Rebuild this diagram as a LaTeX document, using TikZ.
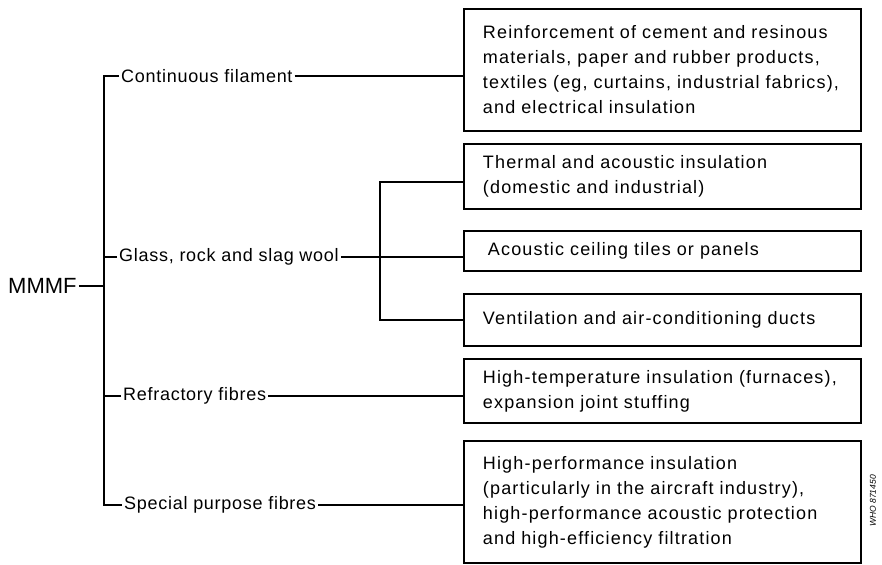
\documentclass[tikz,border=0pt]{standalone}
\usepackage{fontspec}
\setmainfont{Liberation Sans}
\newfontfamily\lblfont[LetterSpace=4]{Liberation Sans}
\newfontfamily\boxfont[LetterSpace=6.5]{Liberation Sans}
\begin{document}
\begin{tikzpicture}[x=1pt,y=-1pt,
  conn/.style={line width=1.8pt},
  lbl/.style={font=\lblfont\fontsize{18}{20}\selectfont, inner sep=2pt, anchor=west},
  usebox/.style={draw, line width=1.8pt, anchor=north west, minimum width=397pt,
     text width=359pt, align=left, inner sep=0pt,
     font=\boxfont\fontsize{18}{25}\selectfont}]
\useasboundingbox (0,0) rectangle (882,564);
% root
\node[font=\fontsize{22}{24}\selectfont, anchor=west, inner sep=2pt] (mm) at (6,286) {MMMF};
% category labels
\node[lbl] (cf) at (119,76) {Continuous filament};
\node[lbl] (gw) at (117,257) {Glass, rock and slag wool};
\node[lbl] (rf) at (121,396) {Refractory fibres};
\node[lbl] (sp) at (122,505) {Special purpose fibres};
% use boxes
\node[usebox, minimum height=122pt] (b1) at (463,8) {Reinforcement of cement and resinous\\materials, paper and rubber products,\\textiles (eg, curtains, industrial fabrics),\\and electrical insulation};
\node[usebox, minimum height=65pt] (b2) at (463,143) {Thermal and acoustic insulation\\(domestic and industrial)};
\node[usebox, minimum height=40pt] (b3) at (463,230) {\hspace*{5pt}Acoustic ceiling tiles or panels};
\node[usebox, minimum height=52pt] (b4) at (463,293) {Ventilation and air-conditioning ducts};
\node[usebox, minimum height=64pt] (b5) at (463,358) {High-temperature insulation (furnaces),\\expansion joint stuffing};
\node[usebox, minimum height=122pt] (b6) at (463,440) {High-performance insulation\\(particularly in the aircraft industry),\\high-performance acoustic protection\\and high-efficiency filtration};
% watermark
\node[font=\itshape\fontsize{8.5}{9}\selectfont, rotate=90, inner sep=0pt] (who) at (873,501) {WHO 871450};
% bracket
\coordinate (bt) at (104,76);
\coordinate (bb) at (104,505);
\draw[conn] (cf.west) -- (bt) -- (bb) [rounded corners=3pt] -- (sp.west);
\draw[conn] (gw.west) -- (gw.west -| bt);
\draw[conn] (rf.west) -- (rf.west -| bt);
\draw[conn] (mm.east) -- (mm.east -| bt);
% to boxes
\draw[conn] (cf.east) -- (cf.east -| b1.west);
\draw[conn] (gw.east) -- (gw.east -| b3.west);
\draw[conn] (rf.east) -- (rf.east -| b5.west);
\draw[conn] (sp.east) -- (sp.east -| b6.west);
% inner bracket for wool
\coordinate (it) at (380,182);
\coordinate (ib) at (380,320);
\draw[conn] (it -| b2.west) -- (it) -- (ib) -- (ib -| b4.west);
\end{tikzpicture}
\end{document}
